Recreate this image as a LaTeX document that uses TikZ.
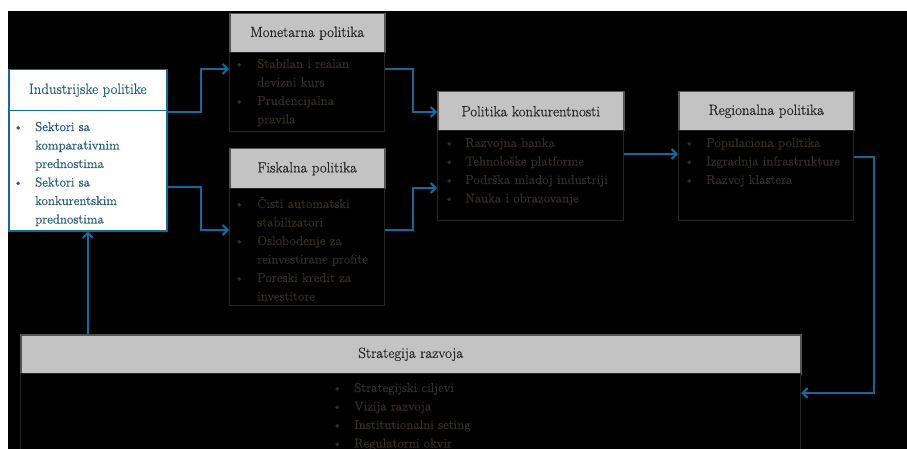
\documentclass[tikz,border=0pt]{standalone}
\usepackage{fontspec}
\setmainfont{Latin Modern Roman}[FakeBold=0.6]
\usetikzlibrary{arrows.meta,calc}
\definecolor{arrowblue}{RGB}{22,104,150}
\definecolor{indtext}{RGB}{38,92,122}
\definecolor{hdrgray}{RGB}{195,195,195}
\definecolor{hdrline}{RGB}{85,85,85}
\definecolor{bodyline}{RGB}{42,36,32}
\definecolor{bodytext}{RGB}{52,46,40}
\definecolor{hdrtext}{RGB}{35,35,35}
\newcommand{\hdrfont}{\fontsize{14.8}{18}\selectfont}
\newcommand{\bodyfont}{\fontsize{13}{18.5}\selectfont}
\newcommand{\blist}[2]{\begin{tabular}[t]{@{}p{#1}@{}l@{}}#2\end{tabular}}
\tikzset{
  hdrbox/.style={draw=hdrline, line width=1.5pt, fill=hdrgray, text=hdrtext, font=\hdrfont, anchor=north west, inner sep=0pt},
  bodybox/.style={draw=bodyline, line width=1.2pt, fill=black, anchor=north west, inner sep=0pt},
  indbox/.style={draw=arrowblue, line width=1.5pt, fill=white, anchor=north west, inner sep=0pt},
  listtext/.style={anchor=base west, inner sep=0pt, text=bodytext, font=\bodyfont},
  flow/.style={draw=arrowblue, line width=2pt, -{Straight Barb[length=5pt,width=10pt]}},
}
\begin{document}
\begin{tikzpicture}[x=1pt,y=-1pt]
\useasboundingbox (0,0) rectangle (907,449);
\fill[white] (0,0) rectangle (907,449);
\fill[black] (8,11) rectangle (907,449);

% Industrijske politike
\node[indbox, minimum width=158pt, minimum height=41pt, text=indtext, font=\hdrfont] (indh) at (8,69) {Industrijske politike};
\node[indbox, minimum width=158pt, minimum height=120pt] (indb) at (8,110) {};
\node[listtext, text=indtext] (indt) at ([xshift=5pt,yshift=-21pt]indb.north west)
  {\blist{22pt}{\textbullet & Sektori sa\\ & komparativnim\\ & prednostima\\ \textbullet & Sektori sa\\ & konkurentskim\\ & prednostima}};

% Monetarna politika
\node[hdrbox, minimum width=155pt, minimum height=39pt] (monh) at (229,13) {Monetarna politika};
\node[bodybox, minimum width=155pt, minimum height=79pt] (monb) at (229,52) {};
\node[listtext] (mont) at ([xshift=5pt,yshift=-16pt]monb.north west)
  {\blist{23pt}{\textbullet & Stabilan i realan\\ & devizni kurs\\ \textbullet & Prudencijalna\\ & pravila}};

% Fiskalna politika
\node[hdrbox, minimum width=155pt, minimum height=40pt] (fish) at (229,148) {Fiskalna politika};
\node[bodybox, minimum width=155pt, minimum height=117pt] (fisb) at (229,188) {};
\node[listtext] (fist) at ([xshift=5pt,yshift=-20pt]fisb.north west)
  {\blist{23pt}{\textbullet & Čisti automatski\\ & stabilizatori\\ \textbullet & Oslobodenje za\\ & reinvestirane profite\\ \textbullet & Poreski kredit za\\ & investitore}};

% Politika konkurentnosti
\node[hdrbox, minimum width=186pt, minimum height=39pt] (konh) at (437,91) {Politika konkurentnosti};
\node[bodybox, minimum width=186pt, minimum height=90pt] (konb) at (437,130) {};
\node[listtext] (kont) at ([xshift=7pt,yshift=-17pt]konb.north west)
  {\blist{21pt}{\textbullet & Razvojna banka\\ \textbullet & Tehnološke platforme\\ \textbullet & Podrška mladoj industriji\\ \textbullet & Nauka i obrazovanje}};

% Regionalna politika
\node[hdrbox, minimum width=175pt, minimum height=39pt] (regh) at (678,91) {Regionalna politika};
\node[bodybox, minimum width=175pt, minimum height=90pt] (regb) at (678,130) {};
\node[listtext] (regt) at ([xshift=6pt,yshift=-17pt]regb.north west)
  {\blist{22pt}{\textbullet & Populaciona politika\\ \textbullet & Izgradnja infrastrukture\\ \textbullet & Razvoj klastera}};

% Strategija razvoja
\node[hdrbox, minimum width=780pt, minimum height=39pt] (strh) at (20,334) {Strategija razvoja};
\node[bodybox, minimum width=780pt, minimum height=90pt] (strb) at (20,373) {};
\node[listtext] (strt) at ([xshift=312pt,yshift=-19pt]strb.north west)
  {\blist{22pt}{\textbullet & Strategijski ciljevi\\ \textbullet & Vizija razvoja\\ \textbullet & Institutionalni seting\\ \textbullet & Regulatorni okvir}};

% connectors
\draw[flow] ([yshift=-1pt]indh.south east) -- ++(33,0) |- ([yshift=-17pt]monb.north west);
\draw[flow] ([yshift=-77pt]indb.north east) -- ++(33,0) |- ([yshift=-42pt]fisb.north west);
\draw[flow] ([yshift=-17pt]monb.north east) -- ++(28,0) |- ([yshift=-21pt]konh.north west);
\draw[flow] ([yshift=-42pt]fisb.north east) -- ++(28,0) |- ([yshift=-58pt]konb.north west);
\draw[flow] ([yshift=-24pt]konb.north east) -- ([yshift=-24pt]regb.north west);
\draw[flow] ([yshift=-27pt]regb.north east) -- ++(20,0) |- ([yshift=-20pt]strb.north east);
\draw[flow] (indb.south |- strh.north) -- (indb.south);
\end{tikzpicture}
\end{document}
